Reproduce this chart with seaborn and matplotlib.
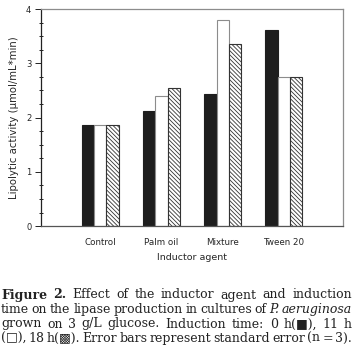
import numpy as np
import pandas as pd
import matplotlib
matplotlib.use("Agg")
import matplotlib.pyplot as plt
from matplotlib.ticker import MultipleLocator
import seaborn as sns

# data
agents = ["Control", "Palm oil", "Mixture", "Tween 20"]
times = ["0 h", "11 h", "18 h"]
act_0h = [1.87, 2.12, 2.43, 3.61]
act_11h = [1.87, 2.40, 3.80, 2.75]
act_18h = [1.87, 2.55, 3.35, 2.75]

df = pd.DataFrame({
    "agent": agents * 3,
    "time": [t for t in times for _ in agents],
    "activity": act_0h + act_11h + act_18h,
})

sns.set_style("white")
plt.rcParams["hatch.linewidth"] = 0.6
grey = "#8c8c8c"

fig = plt.figure(figsize=(3.57, 3.63), dpi=100)
ax = fig.add_axes([0.115, 0.377, 0.846, 0.598])

sns.barplot(data=df, x="agent", y="activity", hue="time", order=agents,
            hue_order=times, palette=["#1e1e1e", "white", "white"],
            width=0.6, gap=0, errorbar=None, legend=False, ax=ax,
            saturation=1, linewidth=0.8)

edge = ["#1e1e1e", grey, "#333333"]
for cont, ec in zip(ax.containers, edge):
    for bar in cont:
        bar.set_edgecolor(ec)
for bar in ax.containers[2]:
    bar.set_hatch("\\\\\\\\\\\\\\\\")

ax.set_xlim(-0.97, 3.97)
ax.set_ylim(0, 4)
ax.yaxis.set_major_locator(MultipleLocator(1))
ax.yaxis.set_minor_locator(MultipleLocator(0.25))
ax.tick_params(axis="y", which="major", left=True, direction="out", length=4,
               width=0.7, color="#222222", labelsize=6, pad=3)
ax.tick_params(axis="y", which="minor", left=True, direction="inout", length=3,
               width=0.7, color="#222222")
ax.tick_params(axis="x", bottom=False, labelsize=6.3, pad=5)
for s in ax.spines.values():
    s.set_color(grey)
    s.set_linewidth(0.9)
ax.spines["left"].set_color("#222222")
ax.spines["bottom"].set_color("#555555")

ax.set_xlabel("Inductor agent", fontsize=6.8, labelpad=4)
ax.set_ylabel("Lipolytic activity (\u00b5mol/mL*min)", fontsize=7.3, labelpad=5)

# caption, fully justified like the journal layout
serif = ["DejaVu Serif", "DejaVu Sans"]
cap_size = 9.0
lines = [
    [("Figure 2.", "bold", "normal"), ("Effect of the inductor agent and induction", "normal", "normal")],
    [("time on the lipase production in cultures of", "normal", "normal"), ("P. aeruginosa", "normal", "italic")],
    [("grown on 3 g/L glucose. Induction time: 0 h(\u25a0), 11 h", "normal", "normal")],
    [("(\u25a1), 18 h(\u25a9). Error bars represent standard error (n = 3).", "normal", "normal")],
]
line_y = [295, 309.5, 324, 338.5]
x0, x1 = 1.0, 352.0
W, H = 357.0, 363.0

renderer = fig.canvas.get_renderer()
for parts, yp in zip(lines, line_y):
    words = []
    for txt, wt, st in parts:
        for w in txt.split():
            t = fig.text(0, 1 - yp / H, w, fontsize=cap_size, family=serif,
                         weight=wt, style=st, va="center", ha="left",
                         color="#222222")
            words.append(t)
    widths = [t.get_window_extent(renderer).width for t in words]
    gap = (x1 - x0 - sum(widths)) / (len(words) - 1)
    x = x0
    for t, w in zip(words, widths):
        t.set_x(x / W)
        x += w + gap

fig.savefig("out.png", dpi=100)
